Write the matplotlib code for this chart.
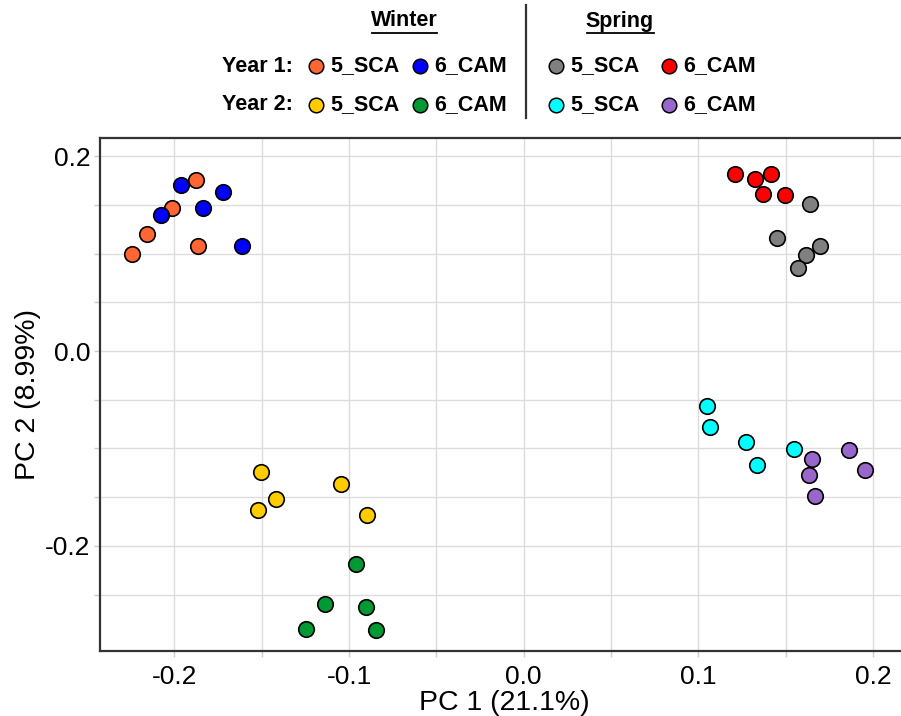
import matplotlib
matplotlib.use("Agg")
import matplotlib.pyplot as plt
from matplotlib.ticker import MultipleLocator, FixedLocator

plt.rcParams['font.family'] = ['Liberation Sans', 'DejaVu Sans']
plt.rcParams['axes.unicode_minus'] = False

# ---- data (PC1, PC2) per group ----
w1_sca_x = [-0.2241, -0.2158, -0.2011, -0.1874, -0.1867]
w1_sca_y = [0.0997, 0.1206, 0.1464, 0.1760, 0.1082]
w1_cam_x = [-0.2075, -0.1963, -0.1834, -0.1720, -0.1613]
w1_cam_y = [0.1392, 0.1701, 0.1471, 0.1632, 0.1075]

w2_sca_x = [-0.1502, -0.1419, -0.1521, -0.1047, -0.0898]
w2_sca_y = [-0.1240, -0.1523, -0.1628, -0.1362, -0.1679]
w2_cam_x = [-0.0960, -0.1139, -0.0905, -0.1244, -0.0846]
w2_cam_y = [-0.2187, -0.2599, -0.2626, -0.2859, -0.2862]

s1_sca_x = [0.1640, 0.1449, 0.1695, 0.1616, 0.1573]
s1_sca_y = [0.1505, 0.1165, 0.1075, 0.0987, 0.0853]
s1_cam_x = [0.1209, 0.1322, 0.1416, 0.1371, 0.1498]
s1_cam_y = [0.1822, 0.1763, 0.1822, 0.1615, 0.1605]

s2_sca_x = [0.1047, 0.1068, 0.1273, 0.1335, 0.1547]
s2_sca_y = [-0.0569, -0.0777, -0.0930, -0.1168, -0.1005]
s2_cam_x = [0.1652, 0.1636, 0.1665, 0.1860, 0.1955]
s2_cam_y = [-0.1107, -0.1274, -0.1485, -0.1012, -0.1226]

x_label = "PC 1 (21.1%)"
y_label = "PC 2 (8.99%)"
group_names = ["5_SCA", "6_CAM"]
season_names = ["Winter", "Spring"]
year_names = ["Year 1:", "Year 2:"]
y_minor_ticks = [-0.25, -0.2, -0.15, -0.1, -0.05, 0.0, 0.05, 0.1, 0.15, 0.2]

colors = {
    "w1_sca": "#FF6633", "w1_cam": "#0000FF",
    "w2_sca": "#FFCC00", "w2_cam": "#009933",
    "s1_sca": "#808080", "s1_cam": "#FF0000",
    "s2_sca": "#00FFFF", "s2_cam": "#9966CC",
}

series = [
    ("w1_sca", w1_sca_x, w1_sca_y), ("w1_cam", w1_cam_x, w1_cam_y),
    ("w2_sca", w2_sca_x, w2_sca_y), ("w2_cam", w2_cam_x, w2_cam_y),
    ("s1_sca", s1_sca_x, s1_sca_y), ("s1_cam", s1_cam_x, s1_cam_y),
    ("s2_sca", s2_sca_x, s2_sca_y), ("s2_cam", s2_cam_x, s2_cam_y),
]

W, H = 901, 716
fig = plt.figure(figsize=(W / 100, H / 100), dpi=100)

ax = fig.add_axes([100 / W, (H - 651) / H, 808 / W, (651 - 137.7) / H])
for key, xs, ys in series:
    ax.scatter(xs, ys, s=125, c=colors[key], edgecolors="black",
               linewidths=1.2, zorder=3)

ax.set_xlim(-0.2426, 0.2200)
ax.set_ylim(-0.308, 0.219)
ax.xaxis.set_major_locator(MultipleLocator(0.1))
ax.xaxis.set_minor_locator(MultipleLocator(0.05))
ax.yaxis.set_major_locator(MultipleLocator(0.2))
ax.yaxis.set_minor_locator(FixedLocator(y_minor_ticks))
ax.grid(True, which="both", color="#dcdcdc", linewidth=1.0, zorder=0)
ax.set_axisbelow(True)
ax.tick_params(which="both", direction="out", length=4, width=1,
               color="#cccccc", labelsize=19, pad=3)
ax.tick_params(axis="x", pad=6)
for sp in ["left", "bottom", "top"]:
    ax.spines[sp].set_color("#333333")
    ax.spines[sp].set_linewidth(1.6)
ax.spines["right"].set_visible(False)
ax.set_xlabel(x_label, fontsize=20.5, labelpad=1)
ax.set_ylabel(y_label, fontsize=20.5, labelpad=3)

# ---- custom legend in an overlay (pixel-like layout coords) ----
lg = fig.add_axes([0, 0, 1, 1], facecolor="none")
lg.set_xlim(0, W)
lg.set_ylim(H, 0)
lg.axis("off")

fs = 15.5
tk = dict(fontsize=fs, fontweight="bold", va="center")
# season headers
lg.text(404, 21, season_names[0], ha="center", **tk)
lg.plot([372, 437], [33, 33], color="black", lw=1.3)
lg.text(620, 21, season_names[1], ha="center", **tk)
lg.plot([587, 654], [33, 33], color="black", lw=1.3)
# divider
lg.plot([526, 526], [5, 118], color="#333333", lw=1.6)

rows_y = [66, 105]
lg.text(293, rows_y[0], year_names[0], ha="right", **tk)
lg.text(293, rows_y[1], year_names[1], ha="right", **tk)

legend_items = [
    ("w1_sca", 316, 0), ("w1_cam", 420, 0),
    ("w2_sca", 316, 1), ("w2_cam", 420, 1),
    ("s1_sca", 556, 0), ("s1_cam", 669, 0),
    ("s2_sca", 556, 1), ("s2_cam", 669, 1),
]
for key, mx, r in legend_items:
    lg.scatter([mx], [rows_y[r]], s=110, c=colors[key], edgecolors="black",
               linewidths=1.1, zorder=3)
    name = group_names[0] if key.endswith("sca") else group_names[1]
    lg.text(mx + 14, rows_y[r], name, ha="left", **tk)

fig.savefig("out.png", dpi=100)
